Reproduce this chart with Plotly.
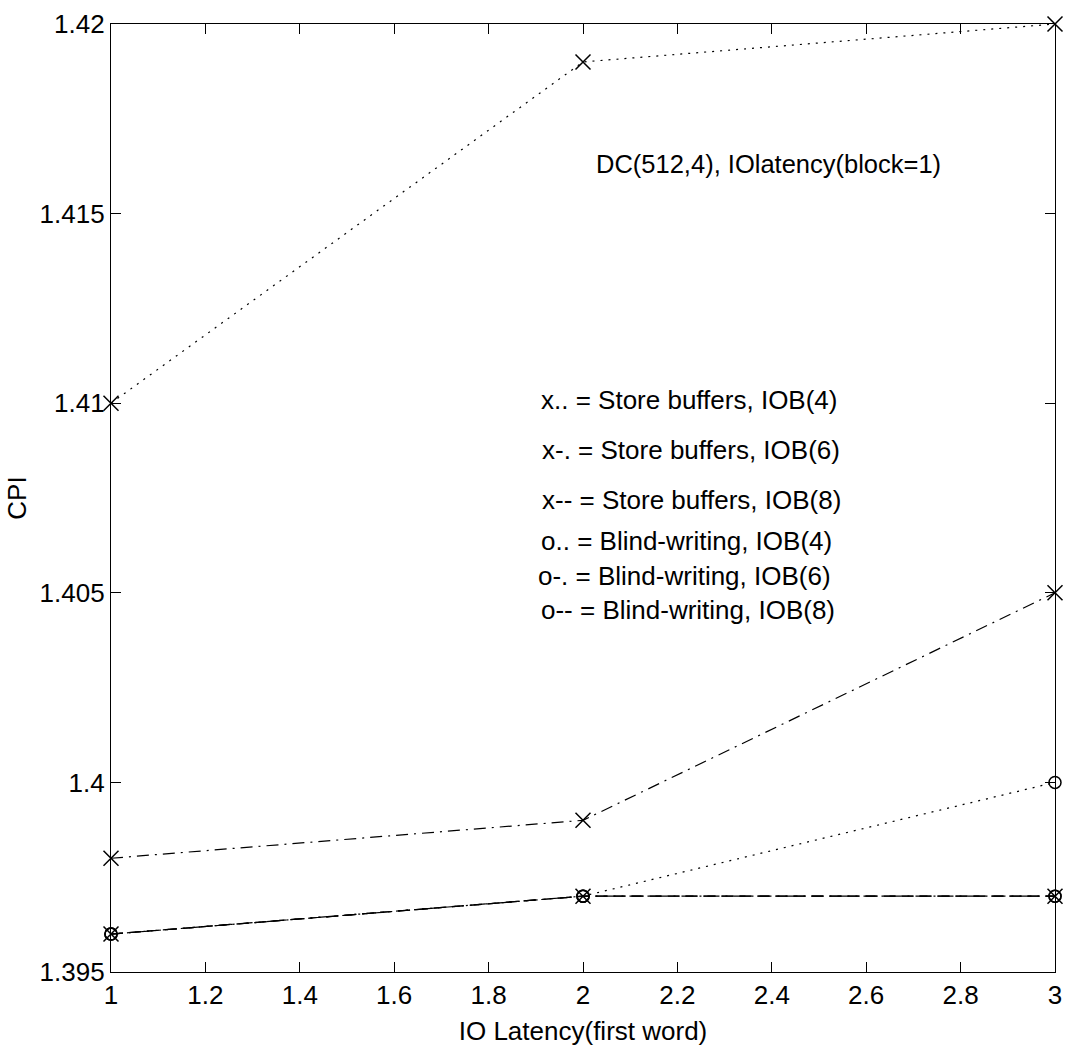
import plotly.graph_objects as go

latency = [1, 2, 3]
sb_iob4 = [1.410, 1.419, 1.420]
sb_iob6 = [1.398, 1.399, 1.405]
sb_iob8 = [1.396, 1.397, 1.397]
bw_iob4 = [1.396, 1.397, 1.400]
bw_iob6 = [1.396, 1.397, 1.397]
bw_iob8 = [1.396, 1.397, 1.397]

DOT = "2px,6px"
DASHDOT = "12px,6px,2px,6px"
DASH = "12px,6px"

series = [
    ("Store buffers, IOB(4)", sb_iob4, "x-thin-open", DOT),
    ("Store buffers, IOB(6)", sb_iob6, "x-thin-open", DASHDOT),
    ("Store buffers, IOB(8)", sb_iob8, "x-thin-open", DASH),
    ("Blind-writing, IOB(4)", bw_iob4, "circle-open", DOT),
    ("Blind-writing, IOB(6)", bw_iob6, "circle-open", DASHDOT),
    ("Blind-writing, IOB(8)", bw_iob8, "circle-open", DASH),
]

legend_lines = [
    "x.. = Store buffers, IOB(4)",
    "x-. = Store buffers, IOB(6)",
    "x-- = Store buffers, IOB(8)",
    "o.. = Blind-writing, IOB(4)",
    "o-. = Blind-writing, IOB(6)",
    "o-- = Blind-writing, IOB(8)",
]

xticks = [1, 1.2, 1.4, 1.6, 1.8, 2, 2.2, 2.4, 2.6, 2.8, 3]
xticklabels = ["1", "1.2", "1.4", "1.6", "1.8", "2", "2.2", "2.4", "2.6", "2.8", "3"]
yticks = [1.395, 1.4, 1.405, 1.41, 1.415, 1.42]
yticklabels = ["1.395", "1.4", "1.405", "1.41", "1.415", "1.42"]

FONT = "Liberation Sans, Arial, Helvetica"
FS = 26

fig = go.Figure()
for name, ys, sym, dash in series:
    fig.add_trace(go.Scatter(
        x=latency, y=ys, mode="lines+markers", name=name,
        line=dict(color="black", width=1.2, dash=dash),
        marker=dict(symbol=sym, size=15 if sym.startswith("x") else 12,
                    color="black", line=dict(color="black", width=1.5)),
        showlegend=False, cliponaxis=False,
    ))

W, H = 1071, 1053
ml, mr, mt, mb = 111, 9, 23, 81
pw, ph = W - ml - mr, H - mt - mb

def px(x, y):
    return (x - ml) / pw, 1 - (y - mt) / ph

annotations = []
ax, ay = px(773, 163)
annotations.append(dict(x=ax, y=ay, xref="paper", yref="paper",
                        text="DC(512,4), IOlatency(block=1)", showarrow=False,
                        font=dict(family=FONT, size=25.5, color="black"),
                        xanchor="center", yanchor="middle"))
leg_pos = [(542, 399), (543, 449), (543, 500), (542, 541), (539, 576), (542, 610)]
for txt, (lx, ly) in zip(legend_lines, leg_pos):
    ax, ay = px(lx, ly)
    annotations.append(dict(x=ax, y=ay, xref="paper", yref="paper", text=txt,
                            showarrow=False, xanchor="left", yanchor="middle",
                            font=dict(family=FONT, size=FS, color="black")))

axis_common = dict(showgrid=False, zeroline=False, showline=True, linecolor="black",
                   linewidth=1.2, mirror="ticks", ticks="inside", ticklen=10,
                   tickcolor="black", tickwidth=1.2,
                   tickfont=dict(family=FONT, size=FS, color="black"))

fig.update_layout(
    width=W, height=H,
    margin=dict(l=ml, r=mr, t=mt, b=mb),
    paper_bgcolor="white", plot_bgcolor="white",
    annotations=annotations,
    xaxis=dict(range=[1, 3], tickvals=xticks, ticktext=xticklabels,
               title=dict(text="IO Latency(first word)", standoff=12,
                          font=dict(family=FONT, size=FS, color="black")),
               **axis_common),
    yaxis=dict(range=[1.395, 1.42], tickvals=yticks, ticktext=yticklabels,
               title=dict(text="CPI", standoff=5,
                          font=dict(family=FONT, size=FS, color="black")),
               **axis_common),
)

fig.write_html("out.html")
